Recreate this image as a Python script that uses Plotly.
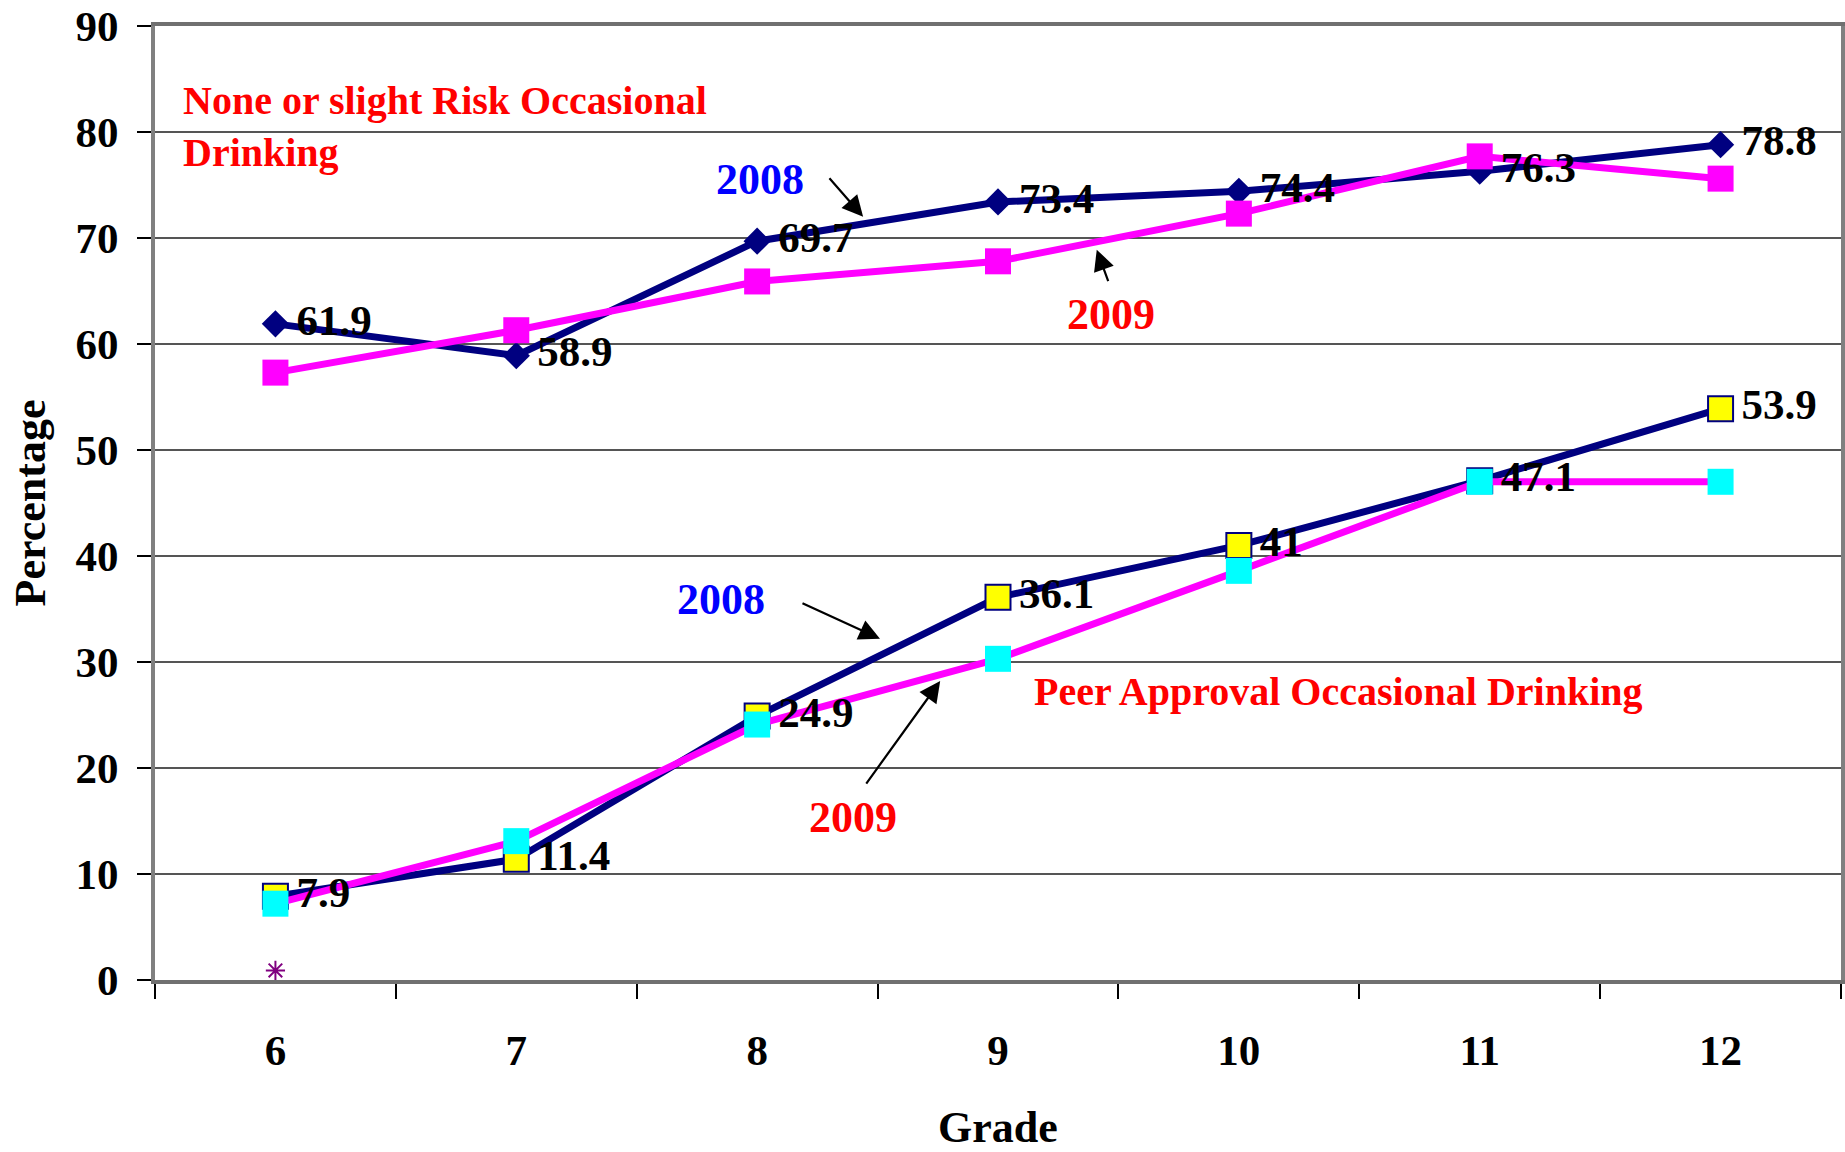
import plotly.graph_objects as go

# ---- data ----
grades = [6, 7, 8, 9, 10, 11, 12]
risk_2008 = [61.9, 58.9, 69.7, 73.4, 74.4, 76.3, 78.8]
risk_2009 = [57.3, 61.3, 65.9, 67.8, 72.3, 77.7, 75.6]
peer_2008 = [7.9, 11.4, 24.9, 36.1, 41.0, 47.1, 53.9]
peer_2009 = [7.2, 13.1, 24.1, 30.3, 38.6, 47.0, 47.0]
extra_grade = [6]
extra_value = [0.9]
y_ticks = [0, 10, 20, 30, 40, 50, 60, 70, 80, 90]

FONT = "Liberation Serif"
NAVY = "#000080"
MAGENTA = "#FF00FF"

fig = go.Figure()

# 2008 series (drawn first, underneath)
fig.add_trace(go.Scatter(
    x=grades, y=risk_2008, mode="lines+markers", name="Risk 2008",
    line=dict(color=NAVY, width=7),
    marker=dict(symbol="diamond", size=21, color=NAVY),
))
fig.add_trace(go.Scatter(
    x=grades, y=peer_2008, mode="lines+markers", name="Peer 2008",
    line=dict(color=NAVY, width=7),
    marker=dict(symbol="square", size=25, color="#FFFF00",
                line=dict(color=NAVY, width=2)),
))
# 2009 series
fig.add_trace(go.Scatter(
    x=grades, y=risk_2009, mode="lines+markers", name="Risk 2009",
    line=dict(color=MAGENTA, width=7),
    marker=dict(symbol="square", size=26, color=MAGENTA),
))
fig.add_trace(go.Scatter(
    x=grades, y=peer_2009, mode="lines+markers", name="Peer 2009",
    line=dict(color=MAGENTA, width=7),
    marker=dict(symbol="square", size=26, color="#00FFFF"),
))
fig.add_trace(go.Scatter(
    x=extra_grade, y=extra_value, mode="markers", name="other",
    marker=dict(symbol="asterisk-open", size=16, color="#800080",
                line=dict(color="#800080", width=2)),
))

# data labels on top of everything
for vals in (risk_2008, peer_2008):
    fig.add_trace(go.Scatter(
        x=grades, y=vals, mode="markers+text",
        text=[f"{v:g}" for v in vals], textposition="middle right",
        textfont=dict(family=FONT, size=43, color="black", weight="bold"),
        marker=dict(size=32, color="rgba(0,0,0,0)"),
        hoverinfo="skip",
    ))

def label(text, x, y, color, size=44, xanchor="center"):
    fig.add_annotation(x=x, y=y, text=text, showarrow=False,
                       xanchor=xanchor, yanchor="middle", align="left",
                       font=dict(family=FONT, size=size, color=color, weight="bold"))

def arrow(x, y, ax, ay):
    fig.add_annotation(x=x, y=y, ax=ax, ay=ay, text="", showarrow=True,
                       arrowhead=2, arrowsize=1.9, arrowwidth=2.2,
                       arrowcolor="black")

label("None or slight Risk Occasional<br>Drinking", 5.61, 80.5, "#FF0000", size=40, xanchor="left")
label("Peer Approval Occasional Drinking", 9.14, 27.2, "#FF0000", size=40, xanchor="left")
label("2008", 8.01, 75.5, "#0000FF")
label("2009", 9.47, 62.8, "#FF0000")
label("2008", 7.85, 35.9, "#0000FF")
label("2009", 8.40, 15.3, "#FF0000")

arrow(8.44, 72.0, -35, -40)
arrow(9.41, 68.9, 12, 33)
arrow(8.51, 32.2, -79, -36)
arrow(8.76, 28.2, -75, 104)

fig.update_layout(
    width=1845, height=1152, autosize=False,
    margin=dict(l=155, r=0, t=26, b=172),
    paper_bgcolor="white", plot_bgcolor="white",
    showlegend=False,
    font=dict(family=FONT, color="black"),
)
fig.update_xaxes(
    range=[5.5, 12.5], tickmode="array", tickvals=grades,
    ticktext=[str(g) for g in grades], ticks="",
    minor=dict(ticks="outside", tick0=5.5, dtick=1, ticklen=15,
               tickcolor="black", tickwidth=1.5, showgrid=False),
    showgrid=False, zeroline=False,
    showline=True, linecolor="#707070", linewidth=4, mirror=True,
    tickfont=dict(family=FONT, size=43, color="black", weight="bold"),
    ticklabelstandoff=29,
    title=dict(text="Grade", standoff=47,
               font=dict(family=FONT, size=44, color="black", weight="bold")),
)
fig.update_yaxes(
    range=[0, 90], tickmode="array", tickvals=y_ticks,
    ticks="outside", ticklen=14, tickcolor="black", tickwidth=2,
    showgrid=True, gridcolor="#555555", gridwidth=1.6, zeroline=False,
    showline=True, linecolor="#808080", linewidth=4, mirror=True,
    tickfont=dict(family=FONT, size=43, color="black", weight="bold"),
    ticklabelstandoff=10,
    title=dict(text="Percentage", standoff=17,
               font=dict(family=FONT, size=44, color="black", weight="bold")),
)

fig.write_html("out.html", config={"displayModeBar": False},
               post_script="document.body.style.margin='0';")
